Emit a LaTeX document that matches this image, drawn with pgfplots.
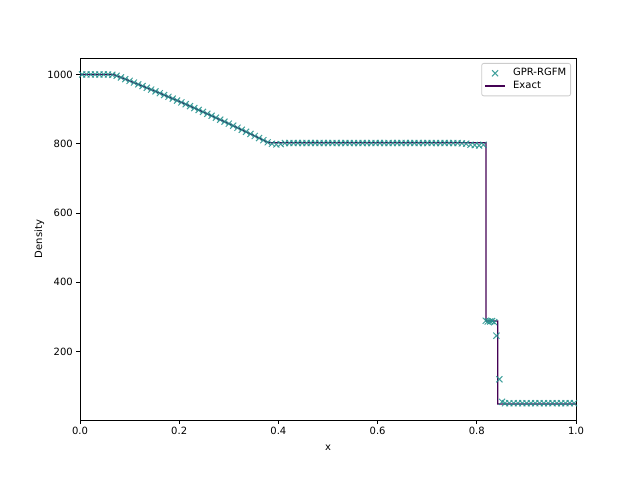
\documentclass[border=0pt]{standalone}
\usepackage{fontspec}
\setmainfont{DejaVu Sans}
\usepackage{pgfplots}
\pgfplotsset{compat=1.18}
\definecolor{mkteal}{RGB}{33,145,140}
\definecolor{exactpurple}{RGB}{68,1,84}
\pgfplotsset{
  mklegend/.style={legend image code/.code={\draw[##1] plot coordinates {(7.2pt,0pt)}; \path[draw=none] (0pt,0pt) -- (19pt,0pt);}},
  lnlegend/.style={legend image code/.code={\draw[##1] (0pt,0pt) -- (14.4pt,0pt); \path[draw=none] (0pt,0pt) -- (19pt,0pt);}},
}
\begin{document}
\begin{tikzpicture}
\path[use as bounding box] (0,0) rectangle (460.8pt,345.6pt);
\begin{axis}[
  at={(57.6pt,43.2pt)}, anchor=south west,
  scale only axis, width=357.12pt, height=260.64pt,
  xmin=0, xmax=1, ymin=2.5, ymax=1047.5,
  xtick={0,0.2,0.4,0.6,0.8,1},
  xticklabels={0.0,0.2,0.4,0.6,0.8,1.0},
  ytick={200,400,600,800,1000},
  yticklabels={200,400,600,800,1000},
  tick align=outside, major tick length=2.52pt,
  xtick pos=lower, ytick pos=left,
  tick style={black, line width=0.576pt},
  axis line style={line width=0.576pt},
  ticklabel style={font=\fontsize{7.2}{8.64}\selectfont},
  xticklabel style={inner sep=1pt, yshift=-1.5pt},
  yticklabel style={inner sep=1pt, xshift=-1.5pt},
  label style={font=\fontsize{7.2}{8.64}\selectfont},
  xlabel={x}, ylabel={Density},
  xlabel style={inner sep=1pt, yshift=-5pt},
  ylabel style={inner sep=1pt},
  legend style={at={(rel axis cs:1,1)}, anchor=north east, xshift=-3.6pt, yshift=-3.6pt,
    draw=black!20, line width=0.576pt, rounded corners=1.5pt, fill=white, fill opacity=0.8, text opacity=1,
    font=\fontsize{7.2}{8.64}\selectfont, inner xsep=2pt, inner ysep=2.5pt,
    nodes={inner sep=1.2pt}},
  legend cell align=left,
]
\addplot[only marks, mark=x, mark size=3.1pt, mkteal, opacity=0.85, mark options={line width=0.72pt}, mklegend] coordinates {
(0.0043,1000)(0.0130,1000)(0.0217,1000)(0.0304,1000)(0.0391,1000)(0.0478,1000)(0.0565,1000)(0.0652,999)
(0.0739,996.2)(0.0826,991.3)(0.0913,986.4)(0.1000,981.5)(0.1087,976.6)(0.1174,971.5)(0.1261,966.5)(0.1348,961.4)
(0.1435,956.3)(0.1522,951.2)(0.1609,945.9)(0.1696,940.7)(0.1783,935.4)(0.1870,930.2)(0.1957,924.8)(0.2044,919.4)
(0.2131,914.0)(0.2218,908.6)(0.2305,903.1)(0.2392,897.5)(0.2479,892.0)(0.2566,886.4)(0.2653,880.8)(0.2740,875.1)
(0.2827,869.3)(0.2914,863.7)(0.3001,857.9)(0.3088,852.0)(0.3175,846.1)(0.3262,840.2)(0.3349,834.4)(0.3436,828.4)
(0.3523,822.3)(0.3610,816.3)(0.3697,810.3)(0.3784,804.1)(0.3871,800)(0.3958,798)(0.4045,799)(0.4132,802)
(0.4219,802)(0.4306,802)(0.4393,802)(0.4480,802)(0.4567,802)(0.4654,802)(0.4741,802)(0.4828,802)
(0.4915,802)(0.5002,802)(0.5089,802)(0.5176,802)(0.5263,802)(0.5350,802)(0.5437,802)(0.5524,802)
(0.5611,802)(0.5698,802)(0.5785,802)(0.5872,802)(0.5959,802)(0.6046,802)(0.6133,802)(0.6220,802)
(0.6307,802)(0.6394,802)(0.6481,802)(0.6568,802)(0.6655,802)(0.6742,802)(0.6829,802)(0.6916,802)
(0.7003,802)(0.7090,802)(0.7177,802)(0.7264,802)(0.7351,802)(0.7438,802)(0.7525,802)(0.7612,802)
(0.7699,801)(0.7786,800)(0.7873,797)(0.7960,796)(0.8047,795)(0.8134,797)
(0.8180,289)(0.8221,287)(0.8270,287)(0.8308,288)(0.8350,285)(0.8395,246)(0.8455,120)(0.8510,55)
(0.8569,51)(0.8656,51)(0.8743,51)(0.8830,51)(0.8917,51)(0.9004,51)(0.9091,51)(0.9178,51)
(0.9265,51)(0.9352,51)(0.9439,51)(0.9526,51)(0.9613,51)(0.9700,51)(0.9787,51)(0.9874,51)(0.9961,51)
};
\addlegendentry{GPR-RGFM}
\addplot[exactpurple, line width=0.9pt, mark=none, lnlegend] coordinates {
(0,1000)(0.067,1000)(0.1,981.5)(0.15,952.5)(0.2,922.2)(0.25,890.6)(0.3,858.0)(0.35,824.0)(0.38,803)
(0.8185,803)(0.8185,288)(0.842,288)(0.842,49)(1,49)
};
\addlegendentry{Exact}
\end{axis}
\end{tikzpicture}
\end{document}
